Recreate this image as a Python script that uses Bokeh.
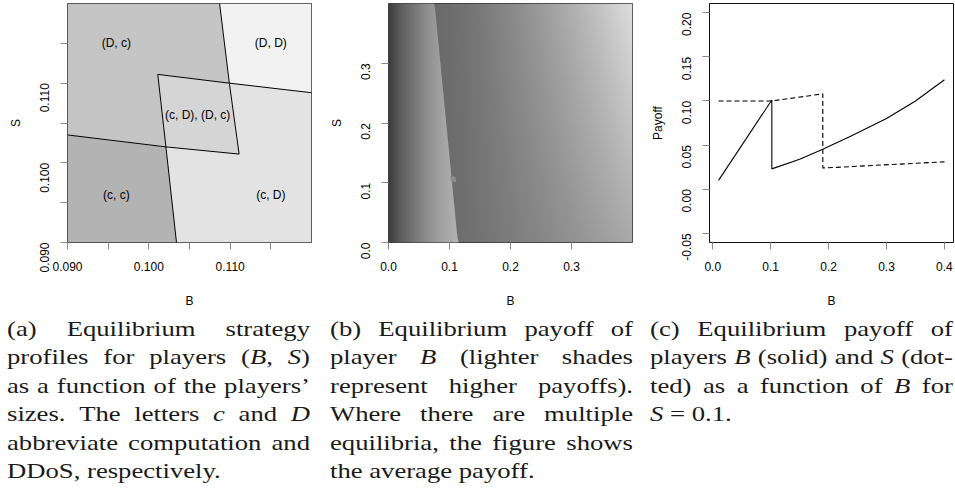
import math
import numpy as np
from bokeh.plotting import figure
from bokeh.models import Range1d, FixedTicker, LinearColorMapper, Div, Spacer
from bokeh.layouts import row, column
from bokeh.embed import file_html
from bokeh.resources import INLINE
from bokeh.core.properties import value

# ---------------- Panel (a): equilibrium regions ----------------
a_ticks = [0.090, 0.095, 0.100, 0.105, 0.110, 0.115]
a_tick_labels = ["0.090", "", "0.100", "", "0.110", ""]

# boundary lines (B, S)
upper_vert_b = [0.1087, 0.1099, 0.1111]
upper_vert_s = [0.1200, 0.1100, 0.1011]
lower_vert_b = [0.1011, 0.1021, 0.1034]
lower_vert_s = [0.1111, 0.1020, 0.0900]
upper_horiz_b = [0.1011, 0.1099, 0.1200]
upper_horiz_s = [0.1111, 0.1100, 0.1088]
lower_horiz_b = [0.0900, 0.1021, 0.1111]
lower_horiz_s = [0.1035, 0.1020, 0.1011]

region_names = ["(c, c)", "(D, c)", "(D, D)", "(c, D)", "(c, D), (D, c)"]
region_label_b = [0.096, 0.096, 0.115, 0.115, 0.106]
region_label_s = [0.096, 0.115, 0.115, 0.096, 0.106]
region_colors = ["#b3b3b3", "#c5c5c5", "#f2f2f2", "#e3e3e3", "#d5d5d5"]

# ---------------- Panel (b): payoff shading ----------------
b_ticks = [0.0, 0.1, 0.2, 0.3]
b_tick_labels = ["0.0", "0.1", "0.2", "0.3"]
edge_s = [0.0, 0.4]            # S where the region edge was read
edge_b = [0.1137, 0.0754]      # B of the edge at those S
left_b = [0.0, 0.02, 0.04, 0.06, 0.08, 0.10, 0.115]
left_gray = [60, 92, 116, 138, 156, 170, 178]
right_b = [0.0, 0.10, 0.15, 0.20, 0.25, 0.30, 0.35, 0.40]
right_gray_s0 = [105, 107, 115, 124, 134, 145, 157, 169]
right_gray_s04 = [105, 108, 121, 137, 155, 175, 197, 222]
mixed_gray = 140

# ---------------- Panel (c): payoffs at S = 0.1 ----------------
c_xticks = [0.0, 0.1, 0.2, 0.3, 0.4]
c_xlabels = ["0.0", "0.1", "0.2", "0.3", "0.4"]
c_yticks = [-0.05, 0.0, 0.05, 0.10, 0.15, 0.20]
c_ylabels = ["-0.05", "0.00", "0.05", "0.10", "0.15", "0.20"]
payoff_B_x = [0.01, 0.102, 0.102, 0.15, 0.189, 0.238, 0.30, 0.35, 0.40]
payoff_B_y = [0.010, 0.101, 0.023, 0.034, 0.045, 0.060, 0.080, 0.100, 0.124]
payoff_S_x = [0.01, 0.102, 0.190, 0.190, 0.40]
payoff_S_y = [0.100, 0.100, 0.108, 0.024, 0.031]

# ---------------- Captions ----------------
cap_a = ["(a) Equilibrium strategy",
         "profiles for players (<i>B</i>, <i>S</i>)",
         "as a function of the players&#8217;",
         "sizes. The letters <i>c</i> and <i>D</i>",
         "abbreviate computation and",
         "DDoS, respectively."]
cap_b = ["(b) Equilibrium payoff of",
         "player <i>B</i> (lighter shades",
         "represent higher payoffs).",
         "Where there are multiple",
         "equilibria, the figure shows",
         "the average payoff."]
cap_c = ["(c) Equilibrium payoff of",
         "players <i>B</i> (solid) and <i>S</i> (dot-",
         "ted) as a function of <i>B</i> for",
         "<i>S</i> = 0.1."]

FONT = "Liberation Sans"


def style(p, xt, xl, yt, yl, outline="#333333"):
    p.xaxis.ticker = FixedTicker(ticks=xt)
    p.yaxis.ticker = FixedTicker(ticks=yt)
    p.xaxis.major_label_overrides = {t: l for t, l in zip(xt, xl)}
    p.yaxis.major_label_overrides = {t: l for t, l in zip(yt, yl)}
    for ax in (p.xaxis[0], p.yaxis[0]):
        ax.axis_line_color = None
        ax.major_tick_line_color = "#8a8a8a"
        ax.major_tick_out = 7
        ax.major_tick_in = 0
        ax.minor_tick_line_color = None
        ax.major_label_text_font = FONT
        ax.major_label_text_font_size = "12px"
        ax.major_label_text_color = "black"
        ax.axis_label_text_font = FONT
        ax.axis_label_text_font_size = "12px"
        ax.axis_label_text_font_style = "normal"
        ax.axis_label_text_color = "black"
    p.xaxis.major_label_standoff = 12
    p.yaxis.major_label_standoff = 16
    p.xaxis.axis_label_standoff = 20
    p.yaxis.axis_label_standoff = 10
    p.yaxis.major_label_orientation = math.pi / 2
    p.grid.visible = False
    p.outline_line_color = outline
    p.outline_line_width = 1
    p.background_fill_color = "white"
    p.border_fill_color = "white"


def make_fig(w, xr, yr, xlabel, ylabel, right):
    p = figure(width=w, height=310, x_range=xr, y_range=yr,
               output_backend="svg", toolbar_location=None,
               min_border_left=67, min_border_right=right,
               min_border_top=3, min_border_bottom=63,
               x_axis_label=xlabel, y_axis_label=ylabel)
    return p


def gray_hex(v):
    v = int(round(v))
    return "#%02x%02x%02x" % (v, v, v)


# ---- (a)
pa = make_fig(321, Range1d(0.09, 0.12), Range1d(0.09, 0.12), "B", "S", 10)
P = {
    "top": (upper_vert_b[0], upper_vert_s[0]),
    "x1": (upper_vert_b[1], upper_vert_s[1]),
    "br": (upper_vert_b[2], upper_vert_s[2]),
    "tl": (lower_vert_b[0], lower_vert_s[0]),
    "x2": (lower_vert_b[1], lower_vert_s[1]),
    "bot": (lower_vert_b[2], lower_vert_s[2]),
    "left": (lower_horiz_b[0], lower_horiz_s[0]),
    "right": (upper_horiz_b[2], upper_horiz_s[2]),
}
x0, x1, y0, y1 = 0.09, 0.12, 0.09, 0.12
polys = [
    [(x0, y0), P["bot"], P["x2"], P["left"]],
    [P["left"], P["x2"], P["tl"], P["x1"], P["top"], (x0, y1)],
    [P["top"], P["x1"], P["right"], (x1, y1)],
    [P["bot"], (x1, y0), P["right"], P["x1"], P["br"], P["x2"]],
    [P["tl"], P["x1"], P["br"], P["x2"]],
]
pa.patches(xs=[[q[0] for q in poly] for poly in polys],
           ys=[[q[1] for q in poly] for poly in polys],
           fill_color=region_colors, line_color=None)
pa.multi_line(xs=[upper_vert_b, lower_vert_b, upper_horiz_b, lower_horiz_b],
              ys=[upper_vert_s, lower_vert_s, upper_horiz_s, lower_horiz_s],
              line_color="black", line_width=1)
pa.text(x=region_label_b, y=region_label_s, text=region_names,
        text_align="center", text_baseline="middle",
        text_font=value(FONT), text_font_size="12px", text_color="black")
style(pa, a_ticks, a_tick_labels, a_ticks, a_tick_labels)

# ---- (b)
pb = make_fig(321, Range1d(0.0, 0.4), Range1d(0.0, 0.4), "B", "S", 10)
n = 244
bs = (np.arange(n) + 0.5) / n * 0.4
ss = (np.arange(n) + 0.5) / n * 0.4
r0 = np.interp(bs, right_b, right_gray_s0)
r4 = np.interp(bs, right_b, right_gray_s04)
wgt = (ss / 0.4)[:, None]
right_img = r0[None, :] * (1 - wgt) + r4[None, :] * wgt
gray_palette = ["#%02x%02x%02x" % (i, i, i) for i in range(256)]
mapper = LinearColorMapper(palette=gray_palette, low=0, high=255)
pb.image(image=[right_img], x=0, y=0, dw=0.4, dh=0.4, color_mapper=mapper)

# left region (lower payoff strategy side) as vertical strips bounded by the edge
step = 0.4 / n
nstrip = int(math.ceil(edge_b[0] / step)) + 1
sx, sy, sc = [], [], []
for i in range(nstrip):
    bl = i * step
    br = bl + 1.6 * step
    bm = bl + 0.5 * step
    top_l = float(np.interp(bl, [edge_b[1], edge_b[0]], [edge_s[1], edge_s[0]]))
    top_r = float(np.interp(br, [edge_b[1], edge_b[0]], [edge_s[1], edge_s[0]]))
    sx.append([bl, br, br, bl])
    sy.append([0.0, 0.0, top_r, top_l])
    sc.append(gray_hex(np.interp(bm, left_b, left_gray)))
pb.patches(xs=sx, ys=sy, fill_color=sc, line_color=None)
pb.patch(x=[q[0] for q in polys[4]], y=[q[1] for q in polys[4]],
         fill_color=gray_hex(mixed_gray), line_color=None)
style(pb, b_ticks, b_tick_labels, b_ticks, b_tick_labels)

# ---- (c)
pc = make_fig(313, Range1d(-0.0056, 0.4156), Range1d(-0.0604, 0.2104),
              "B", "Payoff", 2)
pc.line(payoff_B_x, payoff_B_y, line_color="black", line_width=1.1)
pc.line(payoff_S_x, payoff_S_y, line_color="black", line_width=1.1,
        line_dash="5 3")
style(pc, c_xticks, c_xlabels, c_yticks, c_ylabels, outline="#111111")


# ---- captions
def caption(lines):
    parts = []
    for i, ln in enumerate(lines):
        last = (i == len(lines) - 1)
        if last:
            parts.append('<div style="white-space:nowrap;">%s</div>' % ln)
        else:
            spans = "".join("<span>%s</span>" % w for w in ln.split(" "))
            parts.append('<div style="display:flex;justify-content:space-between;'
                         'white-space:nowrap;">%s</div>' % spans)
    html = ('<div style="font-family:\'Liberation Serif\',serif;font-size:22px;'
            'line-height:28.4px;color:#1a1a1a;width:250px;'
            'transform:scaleX(1.212);transform-origin:0 0;">%s</div>'
            % "".join(parts))
    return Div(text=html, width=303, height=175, margin=(5, 0, 0, 0))


caps = row(Spacer(width=7, height=10), caption(cap_a),
           Spacer(width=20, height=10), caption(cap_b),
           Spacer(width=17, height=10), caption(cap_c))
layout = column(row(pa, pb, pc), caps)

open("out.html", "w").write(file_html(layout, INLINE))
